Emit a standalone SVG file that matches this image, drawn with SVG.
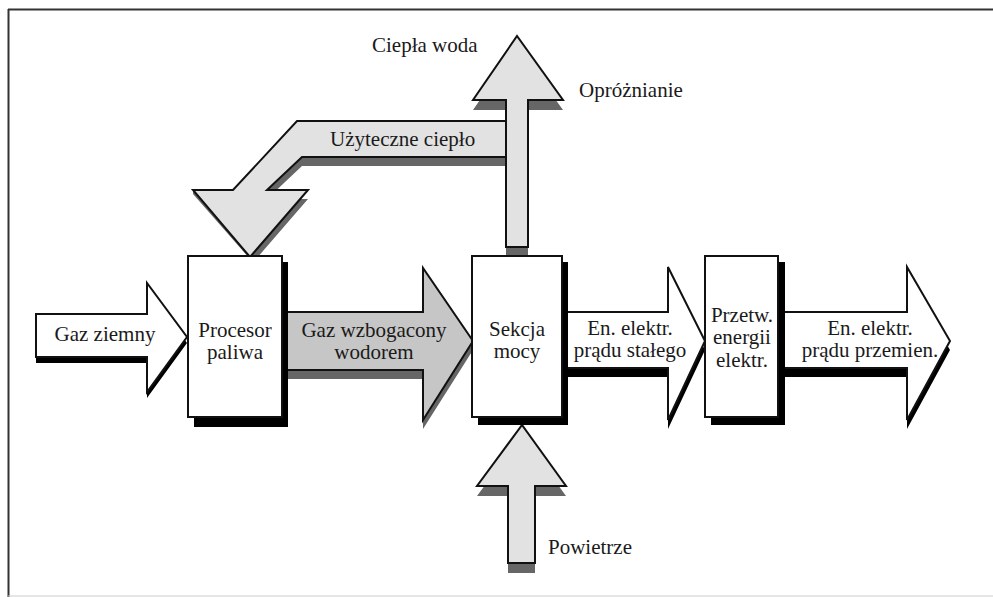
<svg xmlns="http://www.w3.org/2000/svg" width="993" height="597" viewBox="0 0 993 597">
<style>
text{font-family:"Liberation Serif","DejaVu Serif","Noto Serif",serif;font-size:21px;fill:#1a1a1a}
.c{text-anchor:middle}
.ol{stroke:#111;stroke-width:2;stroke-linejoin:miter}
.box{fill:#fff;stroke:#111;stroke-width:2}
.bsh{fill:#000}
.lt{fill:#e2e2e2}
.md{fill:#c6c6c6}
.dk{fill:#666}
.wh{fill:#fff}
.bk{fill:#000}
</style>
<rect x="0" y="0" width="993" height="597" fill="#fff"/>
<line x1="8" y1="9.5" x2="993" y2="9.5" stroke="#333" stroke-width="2"/>
<line x1="8.5" y1="9" x2="8.5" y2="597" stroke="#333" stroke-width="2"/>
<line x1="8" y1="596" x2="993" y2="596" stroke="#ccc" stroke-width="1"/>

<g id="connectors">
  <g id="arrow-gaz-ziemny">
    <polygon class="bk" transform="translate(0,6)" points="36,314 147,314 147,283 187,337 147,392 147,357 36,357"/>
    <polygon class="wh ol" points="36,314 147,314 147,283 187,337 147,392 147,357 36,357"/>
    <text x="105" y="341" class="c">Gaz ziemny</text>
  </g>
  <g id="arrow-gaz-wzbogacony">
    <polygon class="dk" transform="translate(0,9)" points="282,312 423,312 423,268 473,341 423,420 423,370 282,370"/>
    <polygon class="md ol" points="282,312 423,312 423,268 473,341 423,420 423,370 282,370"/>
    <text x="374" y="337" class="c">Gaz wzbogacony</text>
    <text x="374" y="359" class="c">wodorem</text>
  </g>
  <g id="arrow-dc">
    <polygon class="bk" transform="translate(0,9)" points="562,312 668,312 668,267 705,341 668,420 668,368 562,368"/>
    <polygon class="wh ol" points="562,312 668,312 668,267 705,341 668,420 668,368 562,368"/>
    <text x="630" y="335" class="c">En. elektr.</text>
    <text x="630" y="357" class="c">prądu stałego</text>
  </g>
  <g id="arrow-ac">
    <polygon class="bk" transform="translate(0,9)" points="778,312 907,312 907,267 950,341 907,420 907,368 778,368"/>
    <polygon class="wh ol" points="778,312 907,312 907,267 950,341 907,420 907,368 778,368"/>
    <text x="870" y="335" class="c">En. elektr.</text>
    <text x="870" y="357" class="c">prądu przemien.</text>
  </g>
  <g id="arrow-cieplo">
    <polygon class="dk" points="506,121 297,121 233,190 193,190 193,194 250,259 250,266 308,199 267,199 302,166 506,166"/>
    <polygon class="lt ol" points="506,121 297,121 233,190 193,190 250,257 308,190 267,190 302,157 506,157"/>
    <text x="330" y="146">Użyteczne ciepło</text>
  </g>
  <g id="arrow-woda">
    <polygon class="dk" transform="translate(0,10)" points="506,247 506,100 473,100 517,36 563,100 528,100 528,247"/>
    <polygon class="lt ol" points="506,247 506,100 473,100 517,36 563,100 528,100 528,247"/>
    <text x="372" y="52">Ciepła woda</text>
    <text x="579" y="97">Opróżnianie</text>
  </g>
  <g id="arrow-powietrze">
    <polygon class="dk" transform="translate(0,10)" points="508,563 508,486 477,486 522,425 566,486 535,486 535,563"/>
    <polygon class="lt ol" points="508,563 508,486 477,486 522,425 566,486 535,486 535,563"/>
    <text x="548" y="554">Powietrze</text>
  </g>
</g>

<g id="procesor">
  <rect class="bsh" x="194" y="262" width="94" height="165"/>
  <rect class="box" x="188" y="256" width="94" height="161"/>
  <text x="235" y="337" class="c">Procesor</text>
  <text x="235" y="359" class="c">paliwa</text>
</g>
<g id="sekcja">
  <rect class="bsh" x="478" y="262" width="90" height="163"/>
  <rect class="box" x="472" y="256" width="90" height="161"/>
  <text x="517" y="336" class="c">Sekcja</text>
  <text x="517" y="358" class="c">mocy</text>
</g>
<g id="przetw">
  <rect class="bsh" x="711" y="262" width="74" height="163"/>
  <rect class="box" x="705" y="256" width="73" height="161"/>
  <text x="742" y="322" class="c">Przetw.</text>
  <text x="742" y="344" class="c">energii</text>
  <text x="742" y="367" class="c">elektr.</text>
</g>
</svg>
